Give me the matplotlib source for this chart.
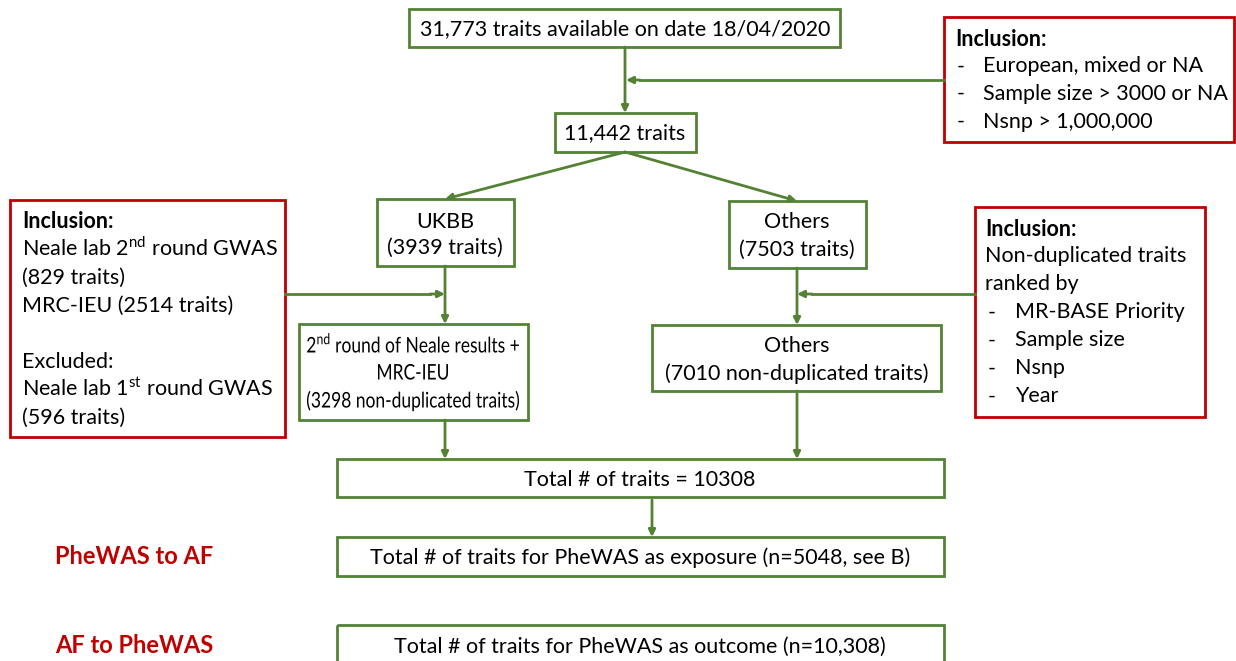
import matplotlib
matplotlib.use("Agg")
from matplotlib import pyplot as plt
from matplotlib.patches import Rectangle, PathPatch
from matplotlib.textpath import TextPath
from matplotlib.font_manager import FontProperties
from matplotlib.transforms import Affine2D

plt.rcParams['font.family'] = ['Lato', 'DejaVu Sans']
plt.rcParams['mathtext.fontset'] = 'custom'
plt.rcParams['mathtext.rm'] = 'Lato'

# texts of the flow chart
start_text = "31,773 traits available on date 18/04/2020"
filtered_text = "11,442 traits"
ukbb_text = ["UKBB", "(3939 traits)"]
others_text = ["Others", "(7503 traits)"]
ukbb_dedup_text = ["2$^{\\mathrm{nd}}$ round of Neale results +", "MRC-IEU", "(3298 non-duplicated traits)"]
others_dedup_text = ["Others", "(7010 non-duplicated traits)"]
total_text = "Total # of traits = 10308"
exposure_text = "Total # of traits for PheWAS as exposure (n=5048, see B)"
outcome_text = "Total # of traits for PheWAS as outcome (n=10,308)"
side_labels = ["PheWAS to AF", "AF to PheWAS"]

incl_top = ["European, mixed or NA", "Sample size > 3000 or NA", "Nsnp > 1,000,000"]
incl_left = ["Neale lab 2$^{\\mathrm{nd}}$ round GWAS", "(829 traits)", "MRC-IEU (2514 traits)",
             "", "Excluded:", "Neale lab 1$^{\\mathrm{st}}$ round GWAS", "(596 traits)"]
incl_right_head = ["Non-duplicated traits", "ranked by"]
incl_right = ["MR-BASE Priority", "Sample size", "Nsnp", "Year"]

green = '#548235'
red = '#C00000'
fs = 15.5
off = 6.5  # baseline offset in pixels below the visual centre

fig = plt.figure(figsize=(12.36, 6.61), dpi=100)
ax = fig.add_axes([0, 0, 1, 1])
ax.set_xlim(0, 1236)
ax.set_ylim(661, 0)
ax.axis('off')


def box(x0, y0, x1, y1, col=green):
    ax.add_patch(Rectangle((x0, y0), x1 - x0, y1 - y0, fill=False, ec=col, lw=2))


def txt(x, y, t, ha='left', **kw):
    size = kw.pop('size', fs)
    ax.text(x, y + off * size / fs, t, ha=ha, va='baseline', fontsize=size, **kw)


def centered(lines, cx, ys, size=fs):
    for t, y in zip(lines, ys):
        txt(cx, y, t, ha='center', size=size)


def squeezed(lines, cx, ys, sx):
    # text squeezed horizontally, drawn as a path in pixel units
    px = fs * 100 / 72
    for t, y in zip(lines, ys):
        tp = TextPath((0, 0), t, size=px, prop=FontProperties(family='Lato'))
        bb = tp.get_extents()
        tr = Affine2D().translate(-(bb.x0 + bb.x1) / 2, 0).scale(sx, -1).translate(cx, y + off)
        ax.add_patch(PathPatch(tr.transform_path(tp), fc='black', ec='none'))


def arrow(x0, y0, x1, y1):
    ax.annotate('', xy=(x1, y1), xytext=(x0, y0),
                arrowprops=dict(arrowstyle='-|>', color=green, lw=2,
                                mutation_scale=10, shrinkA=0, shrinkB=0))


# main boxes
box(409, 9, 840, 47)
centered([start_text], 625, [29])
box(555, 113, 696, 152)
centered([filtered_text], 625, [133])
box(377, 199, 514, 266)
centered(ukbb_text, 445, [221, 247])
box(729, 201, 866, 268)
centered(others_text, 797, [222, 249])
box(299, 324, 528, 420)
squeezed(ukbb_dedup_text, 413, [346, 373, 401], 0.81)
box(652, 325, 941, 391)
centered(others_dedup_text, 797, [346, 374])
box(337, 459, 944, 497)
centered([total_text], 640, [479])
box(337, 537, 944, 576)
centered([exposure_text], 640, [558])
box(337, 625, 944, 670)
centered([outcome_text], 640, [646])

# arrows
arrow(625, 47, 625, 113)
ax.plot([944, 640], [80, 80], color=green, lw=2)
arrow(640, 80, 626, 80)
arrow(625, 152, 445, 199)
arrow(625, 152, 797, 201)
arrow(445, 266, 445, 324)
ax.plot([285, 430], [294, 294], color=green, lw=2)
arrow(430, 294, 445, 294)
arrow(797, 268, 797, 325)
ax.plot([975, 812], [294, 294], color=green, lw=2)
arrow(812, 294, 797, 294)
arrow(445, 420, 445, 459)
arrow(797, 391, 797, 459)
arrow(652, 500, 652, 537)

# inclusion boxes
box(944, 17, 1234, 142, red)
txt(955, 40, "Inclusion:", fontweight='bold')
for t, y in zip(incl_top, [66, 93, 121]):
    txt(957, y, "-")
    txt(983, y, t)

box(10, 200, 285, 437, red)
txt(22, 222, "Inclusion:", fontweight='bold')
for i, t in enumerate(incl_left):
    if t:
        txt(22, 249 + i * 28, t)

box(975, 207, 1205, 417, red)
txt(985, 229, "Inclusion:", fontweight='bold')
for t, y in zip(incl_right_head, [256, 284]):
    txt(985, y, t)
for i, t in enumerate(incl_right):
    y = 312 + i * 28
    txt(988, y, "-")
    txt(1015, y, t)

# side labels
for t, y in zip(side_labels, [557, 646]):
    txt(55, y, t, size=fs + 1.5, fontweight='bold', color=red)

fig.savefig('out.png', dpi=100)
